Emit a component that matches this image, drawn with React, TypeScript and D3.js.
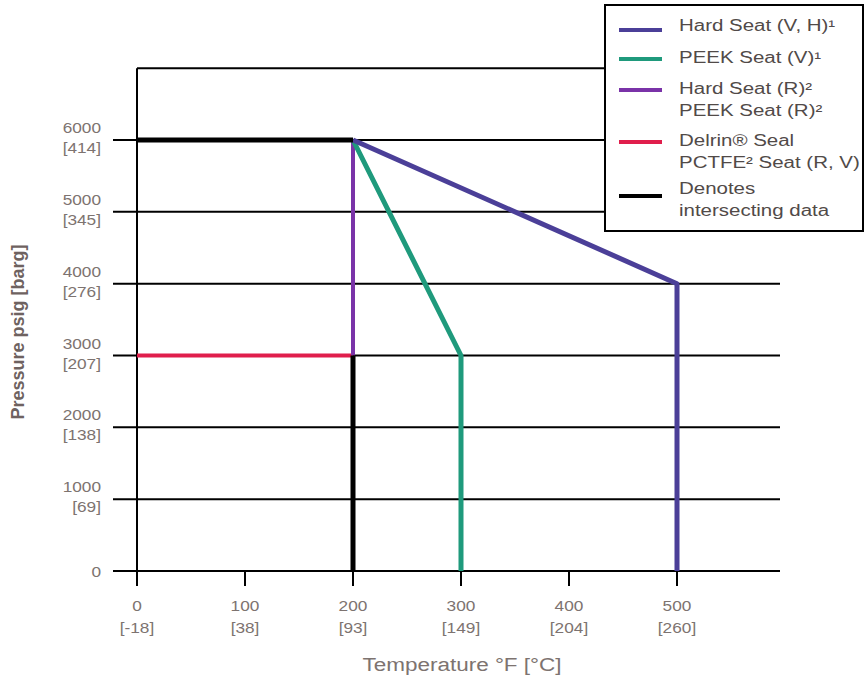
import React from "react";
import * as d3 from "d3";

const xTicks = [0, 100, 200, 300, 400, 500];
const xTickC = ["[-18]", "[38]", "[93]", "[149]", "[204]", "[260]"];
const yTicks = [0, 1000, 2000, 3000, 4000, 5000, 6000];
const yTickB = ["", "[69]", "[138]", "[207]", "[276]", "[345]", "[414]"];

const hardSeatVH = [[200, 6000], [500, 4000], [500, 0]];
const peekSeatV = [[200, 6000], [300, 3000], [300, 0]];
const hardPeekR = [[200, 6000], [200, 3000]];
const delrin = [[0, 3000], [200, 3000]];
const intersectTop = [[0, 6000], [200, 6000]];
const intersectBottom = [[200, 3000], [200, 0]];

const legendItems = [
  { color: "#4b3f98", lines: ["Hard Seat (V, H)¹"] },
  { color: "#1f9a7c", lines: ["PEEK Seat (V)¹"] },
  { color: "#7a33a8", lines: ["Hard Seat (R)²", "PEEK Seat (R)²"] },
  { color: "#e01e4c", lines: ["Delrin® Seal", "PCTFE² Seat (R, V)"] },
  { color: "#000000", lines: ["Denotes", "intersecting data"] },
];

const FONT = "'Liberation Sans', Arial, sans-serif";

function T(props: {
  x: number;
  y: number;
  size: number;
  sx?: number;
  anchor?: string;
  fill?: string;
  weight?: string;
  children: React.ReactNode;
}) {
  const { x, y, size, sx = 1.2, anchor = "start", fill = "#7d7370", weight = "normal", children } = props;
  return (
    <text
      transform={`translate(${x},${y}) scale(${sx},1)`}
      textAnchor={anchor}
      fontSize={size}
      fill={fill}
      fontWeight={weight}
      fontFamily={FONT}
    >
      {children}
    </text>
  );
}

export default function App() {
  const x = d3.scaleLinear().domain([0, 500]).range([137, 677]);
  const y = d3.scaleLinear().domain([0, 6000]).range([571, 140]);
  const line = d3
    .line<number[]>()
    .x((d) => x(d[0]))
    .y((d) => y(d[1]));
  const swatchY = [30, 59, 90, 142, 196];
  const textY = [31, 63, 94, 146, 194];

  return (
    <svg
      width={865}
      height={683}
      style={{ position: "absolute", left: 0, top: 0, background: "#fff" }}
    >
      {/* frame top */}
      <line x1={x(0)} x2={605} y1={y(7000)} y2={y(7000)} stroke="#000" strokeWidth={2} />
      {/* left axis */}
      <line x1={x(0)} x2={x(0)} y1={y(7000)} y2={584} stroke="#000" strokeWidth={2} />
      {/* horizontal grid lines */}
      {yTicks.map((t) => (
        <line
          key={t}
          x1={113}
          x2={t >= 5000 ? 605 : 780}
          y1={y(t)}
          y2={y(t)}
          stroke="#000"
          strokeWidth={2}
        />
      ))}
      {/* x tick marks */}
      {xTicks.map((t) => (
        <line key={t} x1={x(t)} x2={x(t)} y1={y(0)} y2={586} stroke="#000" strokeWidth={2} />
      ))}
      {/* y tick labels */}
      {yTicks.map((t, i) =>
        t === 0 ? (
          <T key={t} x={101} y={y(t) + 6} size={15} sx={1.15} anchor="end">
            0
          </T>
        ) : (
          <g key={t}>
            <T x={101} y={y(t) - 7} size={15} sx={1.15} anchor="end">
              {t}
            </T>
            <T x={101} y={y(t) + 13} size={15} sx={1.15} anchor="end">
              {yTickB[i]}
            </T>
          </g>
        )
      )}
      {/* x tick labels */}
      {xTicks.map((t, i) => (
        <g key={t}>
          <T x={x(t)} y={611} size={15} sx={1.15} anchor="middle">
            {t}
          </T>
          <T x={x(t)} y={633} size={15} sx={1.15} anchor="middle">
            {xTickC[i]}
          </T>
        </g>
      ))}
      {/* axis titles */}
      <T x={462} y={671} size={18} sx={1.25} anchor="middle">
        Temperature °F [°C]
      </T>
      <text
        transform={`translate(24, 332) rotate(-90)`}
        textAnchor="middle"
        fontSize={18}
        fontWeight="bold"
        fill="#6e6260"
        fontFamily={FONT}
      >
        Pressure psig [barg]
      </text>
      {/* data lines */}
      <path d={line(delrin) || ""} fill="none" stroke="#e01e4c" strokeWidth={4} />
      <path d={line(hardPeekR) || ""} fill="none" stroke="#7a33a8" strokeWidth={4} />
      <path d={line(peekSeatV) || ""} fill="none" stroke="#1f9a7c" strokeWidth={5} strokeLinejoin="round" />
      <path d={line(hardSeatVH) || ""} fill="none" stroke="#4b3f98" strokeWidth={5} strokeLinejoin="round" />
      <path d={line(intersectTop) || ""} fill="none" stroke="#000" strokeWidth={5} />
      <path d={line(intersectBottom) || ""} fill="none" stroke="#000" strokeWidth={5} />
      {/* legend */}
      <rect x={605} y={5} width={258} height={226} fill="#fff" stroke="#000" strokeWidth={2} />
      {legendItems.map((item, i) => (
        <g key={i}>
          <line
            x1={619}
            x2={662}
            y1={swatchY[i]}
            y2={swatchY[i]}
            stroke={item.color}
            strokeWidth={4}
          />
          {item.lines.map((l, j) => (
            <T key={j} x={679} y={textY[i] + j * 22} size={16} sx={1.28} fill="#514a48">
              {l}
            </T>
          ))}
        </g>
      ))}
    </svg>
  );
}
